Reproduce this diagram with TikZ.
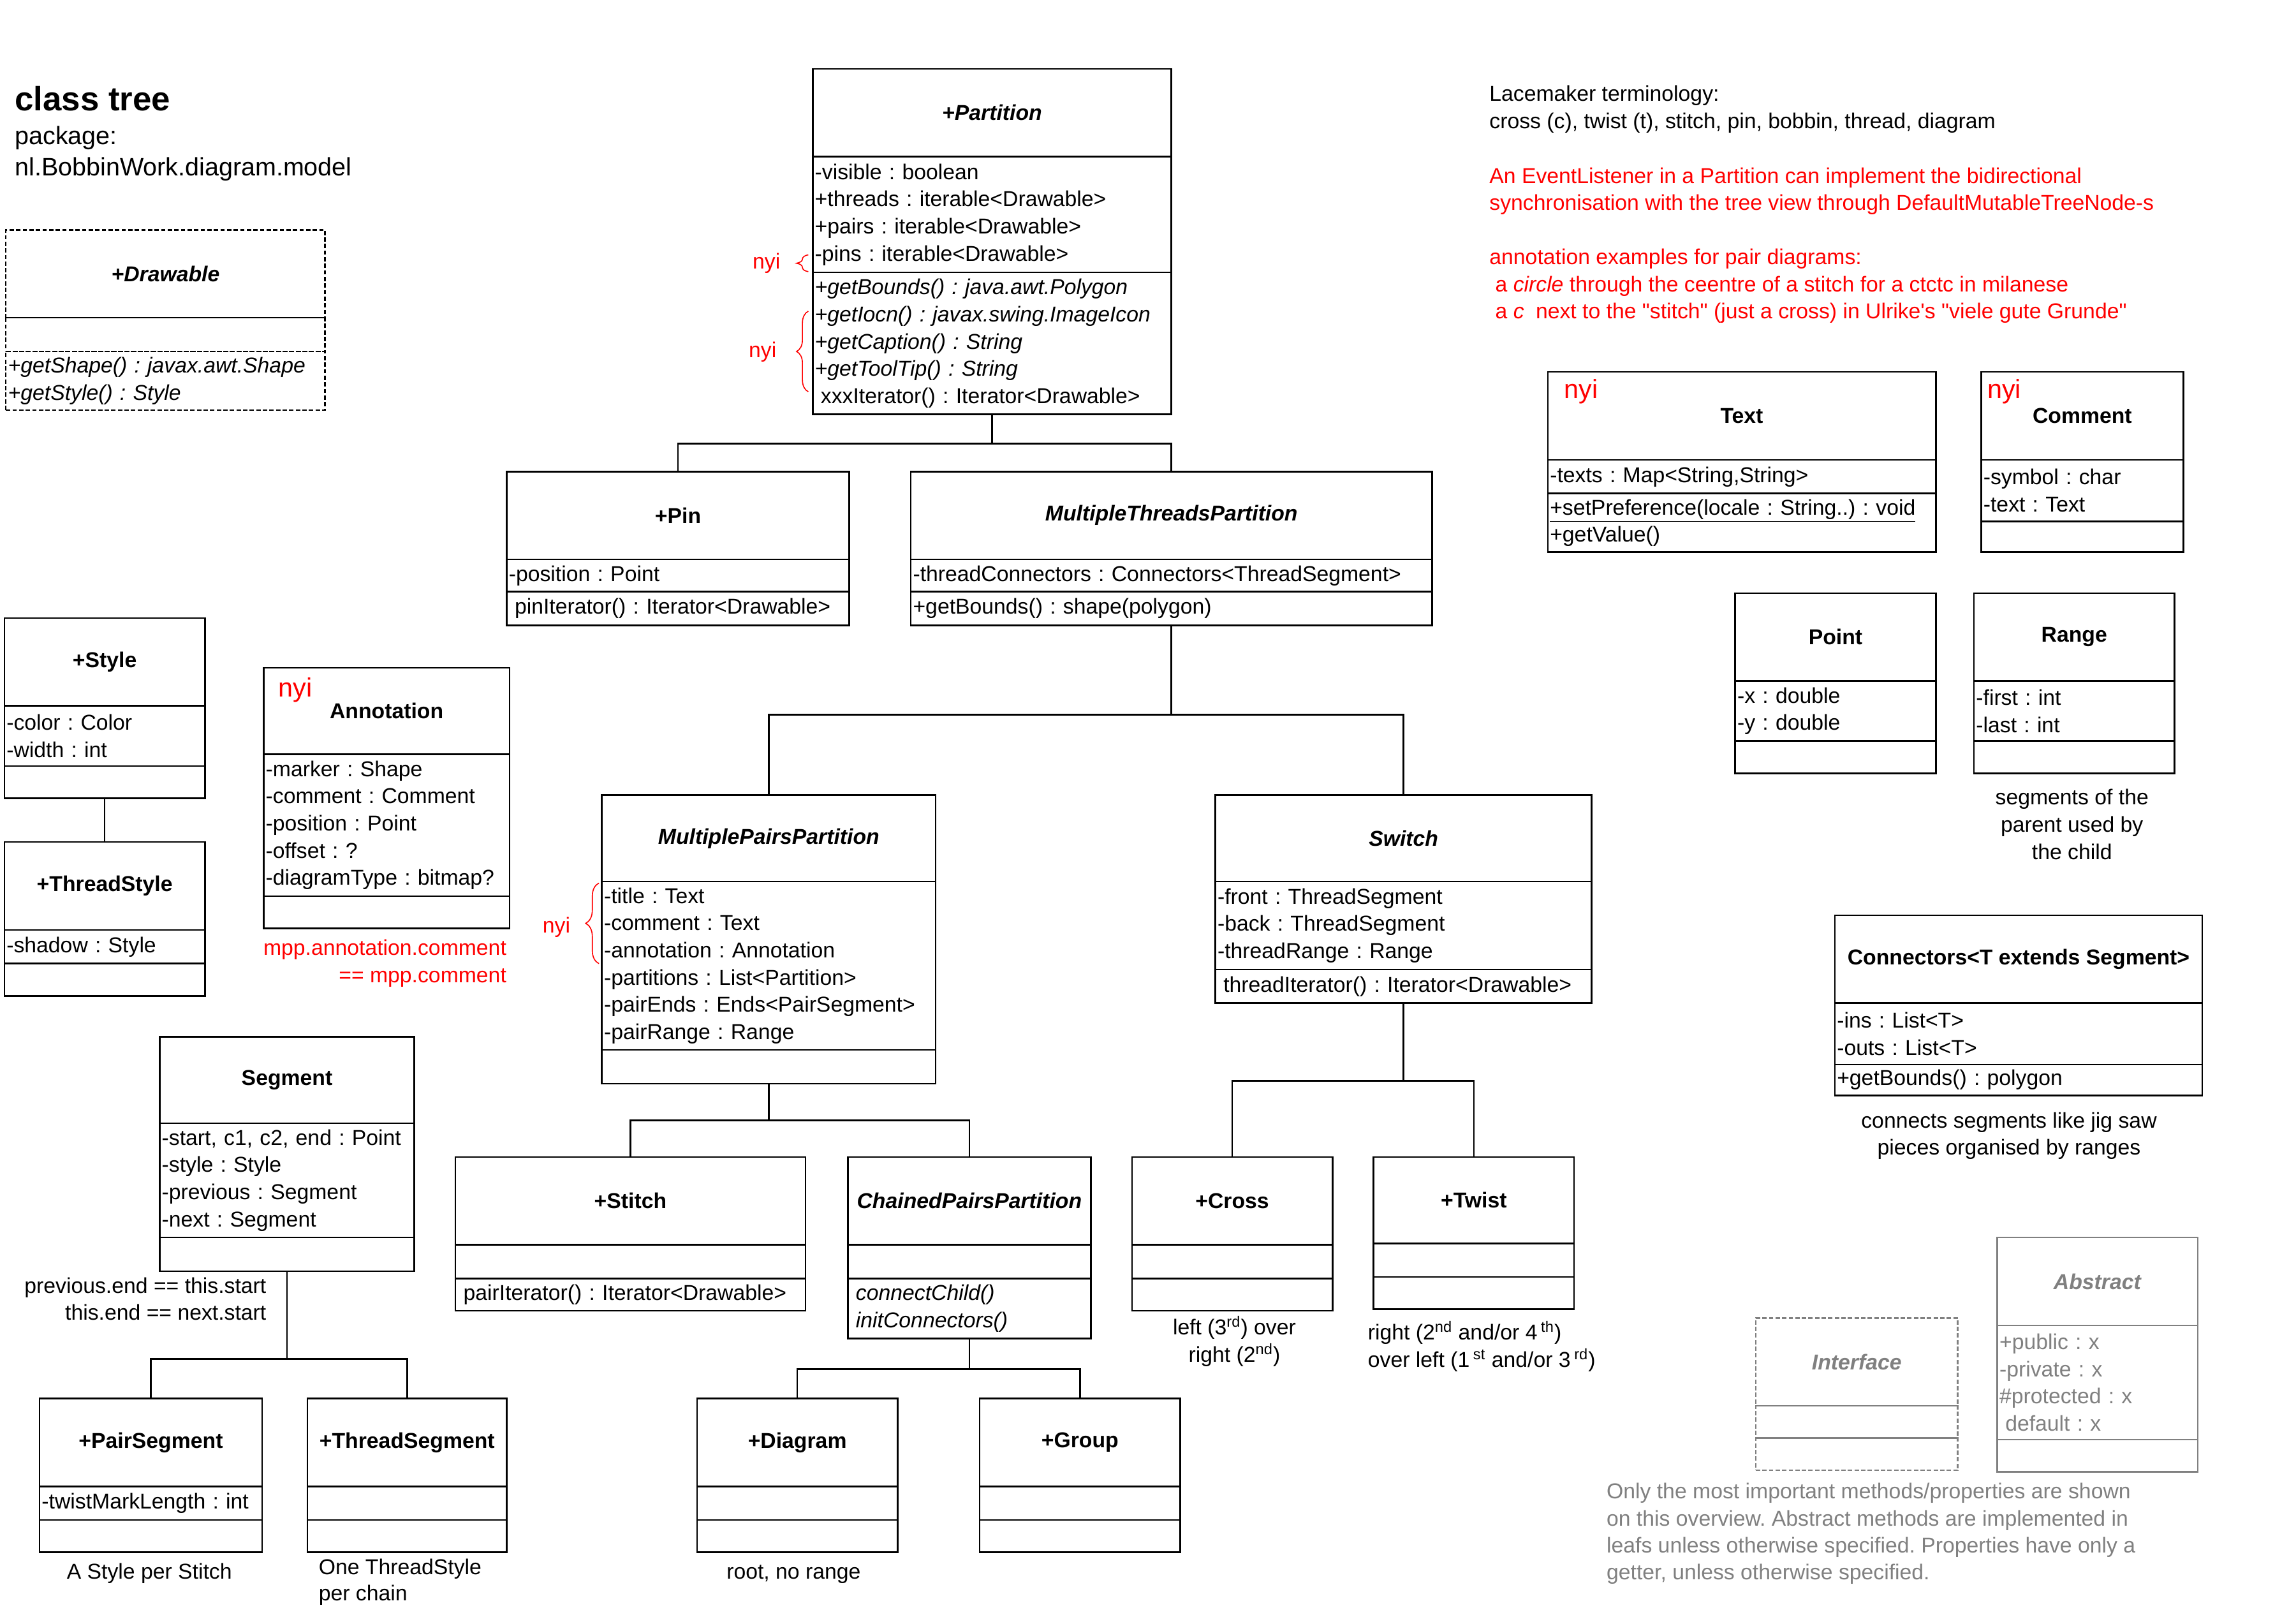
\documentclass[tikz,border=0pt]{standalone}
\usepackage{fontspec}
\setmainfont{Liberation Sans}[Ligatures=TeXOff]
\usetikzlibrary{positioning, calc, decorations.pathreplacing}
\definecolor{nyired}{RGB}{255,0,0}
\definecolor{legendgray}{RGB}{128,128,128}
\newcommand{\umlfont}{\fontsize{14.7}{18.6}\selectfont}
\frenchspacing

\begin{document}
\begin{tikzpicture}[
    x=1pt, y=-1pt,
    clsbox/.style={draw, line width=1.1pt, outer sep=0pt, inner sep=0pt, font=\umlfont},
    clshead/.style={clsbox, anchor=north west, align=center, font=\umlfont\bfseries},
    clspart/.style={clsbox, align=left, inner xsep=1.5pt},
    branch/.style={line width=1.1pt},
    notetext/.style={inner sep=0pt, font=\umlfont},
    nyitext/.style={inner sep=0pt, font=\umlfont, text=nyired},
    nyibrace/.style={draw=nyired, line width=0.7pt, decorate, decoration={brace, amplitude=#1}},
    dashbox/.style={dash pattern=on 3pt off 1.5pt},
    legendbox/.style={draw=legendgray, text=legendgray}
  ]
  \path[use as bounding box, fill=white] (0,0) rectangle (1568,1098);

  % HEADER NOTES (base = baseline of the last line)
  \node[notetext, anchor=base west, font=\fontsize{23}{26}\selectfont\bfseries] (heading) at (10,75.7) {class tree};
  \node[notetext, anchor=base west, align=left, font=\fontsize{17.2}{21.2}\selectfont] (package) at (10,119.9) {package:\\nl.BobbinWork.diagram.model};
  \node[notetext, anchor=base west, align=left] (terms) at (1017,87.7) {Lacemaker terminology:\\cross (c), twist (t), stitch, pin, bobbin, thread, diagram};
  \node[notetext, anchor=base west, align=left, text=nyired] (listener) at (1017,143.7) {An EventListener in a Partition can implement the bidirectional\\synchronisation with the tree view through DefaultMutableTreeNode-s};
  \node[notetext, anchor=base west, align=left, text=nyired] (examples) at (1017,217.7) {annotation examples for pair diagrams:\\\hspace*{4pt}a \textit{circle} through the ceentre of a stitch for a ctctc in milanese\\\hspace*{4pt}a \textit{c}\hspace*{8pt}next to the "stitch" (just a cross) in Ulrike's "viele gute Grunde"};

  % DRAWABLE (interface)
  \node[clshead, dashbox, minimum width=218pt, minimum height=60pt] (drawable) at (4,157) {\textit{+Drawable}};
  \node[clspart, dashbox, text width=215pt, minimum height=23pt, below=0pt of drawable] (drawableattr) {};
  \node[clspart, dashbox, text width=215pt, minimum height=40pt, below=0pt of drawableattr] (drawableops) {\textit{+getShape() : javax.awt.Shape}\\\textit{+getStyle() : Style}};

  % PARTITION
  \node[clshead, minimum width=245pt, minimum height=60pt] (partition) at (555,47) {\textit{+Partition}};
  \node[clspart, text width=242pt, minimum height=79pt, below=0pt of partition] (partitionattr) {-visible : boolean\\+threads : iterable<Drawable>\\+pairs : iterable<Drawable>\\-pins : iterable<Drawable>};
  \node[clspart, text width=242pt, minimum height=97pt, below=0pt of partitionattr] (partitionops) {\textit{+getBounds() : java.awt.Polygon}\\\textit{+getIocn() : javax.swing.ImageIcon}\\\textit{+getCaption() : String}\\\textit{+getToolTip() : String}\\\hspace*{4pt}xxxIterator() : Iterator<Drawable>};
  \node[nyitext, anchor=base east] (nyipins) at (533,183.7) {nyi};
  \node[nyitext, anchor=base east] (nyigetters) at (530.4,244.3) {nyi};
  \draw[nyibrace=8pt] (552,185.5) -- (552,174);
  \draw[nyibrace=8pt] (552,267.5) -- (552,212.5);

  % PIN
  \node[clshead, minimum width=234pt, minimum height=60pt] (pin) at (346,322) {+Pin};
  \node[clspart, text width=231pt, minimum height=22pt, below=0pt of pin] (pinattr) {-position : Point};
  \node[clspart, text width=231pt, minimum height=23pt, below=0pt of pinattr] (pinops) {\hspace*{4pt}pinIterator() : Iterator<Drawable>};

  % MULTIPLE THREADS PARTITION
  \node[clshead, minimum width=356pt, minimum height=60pt] (mtpart) at (622,322) {\textit{MultipleThreadsPartition}};
  \node[clspart, text width=353pt, minimum height=22pt, below=0pt of mtpart] (mtpartattr) {-threadConnectors : Connectors<ThreadSegment>};
  \node[clspart, text width=353pt, minimum height=23pt, below=0pt of mtpartattr] (mtpartops) {+getBounds() : shape(polygon)};

  % TEXT / COMMENT
  \node[clshead, minimum width=265pt, minimum height=60pt] (textclass) at (1057,254) {Text};
  \node[clspart, text width=262pt, minimum height=23pt, below=0pt of textclass] (textclassattr) {-texts : Map<String,String>};
  \node[clspart, text width=262pt, minimum height=40pt, below=0pt of textclassattr] (textclassops) {\underline{+setPreference(locale : String..) : void}\\+getValue()};
  \node[nyitext, font=\fontsize{18}{20}\selectfont, anchor=base west] (textnyi) at ($(textclass.north west)+(11,18)$) {nyi};

  \node[clshead, minimum width=138pt, minimum height=60pt] (comment) at (1353,254) {Comment};
  \node[clspart, text width=135pt, minimum height=42pt, below=0pt of comment] (commentattr) {-symbol : char\\-text : Text};
  \node[clspart, text width=135pt, minimum height=21pt, below=0pt of commentattr] (commentops) {};
  \node[nyitext, font=\fontsize{18}{20}\selectfont, anchor=base west] (commentnyi) at ($(comment.north west)+(4,18)$) {nyi};

  % STYLE / THREADSTYLE
  \node[clshead, minimum width=137pt, minimum height=60pt] (styleclass) at (3,422) {+Style};
  \node[clspart, text width=134pt, minimum height=41pt, below=0pt of styleclass] (styleclassattr) {-color : Color\\-width : int};
  \node[clspart, text width=134pt, minimum height=22pt, below=0pt of styleclassattr] (styleclassops) {};

  \node[clshead, minimum width=137pt, minimum height=60pt] (threadstyle) at (3,575) {+ThreadStyle};
  \node[clspart, text width=134pt, minimum height=23pt, below=0pt of threadstyle] (threadstyleattr) {-shadow : Style};
  \node[clspart, text width=134pt, minimum height=22pt, below=0pt of threadstyleattr] (threadstyleops) {};

  % ANNOTATION
  \node[clshead, minimum width=168pt, minimum height=59pt] (annotation) at (180,456) {Annotation};
  \node[clspart, text width=165pt, minimum height=97pt, below=0pt of annotation] (annotationattr) {-marker : Shape\\-comment : Comment\\-position : Point\\-offset : ?\\-diagramType : bitmap?};
  \node[clspart, text width=165pt, minimum height=22pt, below=0pt of annotationattr] (annotationops) {};
  \node[nyitext, font=\fontsize{18}{20}\selectfont, anchor=base west] (annotationnyi) at ($(annotation.north west)+(10,20)$) {nyi};
  \node[notetext, anchor=base east, align=right, text=nyired] (annotationnote) at (346,671) {mpp.annotation.comment\\== mpp.comment};

  % POINT / RANGE
  \node[clshead, minimum width=137pt, minimum height=60pt] (point) at (1185,405) {Point};
  \node[clspart, text width=134pt, minimum height=41pt, below=0pt of point] (pointattr) {-x : double\\-y : double};
  \node[clspart, text width=134pt, minimum height=22pt, below=0pt of pointattr] (pointops) {};

  \node[clshead, minimum width=137pt, minimum height=60pt] (range) at (1348,405) {Range};
  \node[clspart, text width=134pt, minimum height=41pt, below=0pt of range] (rangeattr) {-first : int\\-last : int};
  \node[clspart, text width=134pt, minimum height=22pt, below=0pt of rangeattr] (rangeops) {};
  \node[notetext, anchor=base, align=center] (rangenote) at (1415,586.8) {segments of the\\parent used by\\the child};

  % MULTIPLE PAIRS PARTITION
  \node[clshead, minimum width=228pt, minimum height=59pt] (mppart) at (411,543) {\textit{MultiplePairsPartition}};
  \node[clspart, text width=225pt, minimum height=115pt, below=0pt of mppart] (mppartattr) {-title : Text\\-comment : Text\\-annotation : Annotation\\-partitions : List<Partition>\\-pairEnds : Ends<PairSegment>\\-pairRange : Range};
  \node[clspart, text width=225pt, minimum height=23pt, below=0pt of mppartattr] (mppartops) {};
  \node[nyitext, anchor=base east] (nyimpp) at (389.6,636.9) {nyi};
  \draw[nyibrace=9pt] (409,658) -- (409,603);

  % SWITCH
  \node[clshead, minimum width=257pt, minimum height=59pt] (switch) at (830,543) {\textit{Switch}};
  \node[clspart, text width=254pt, minimum height=60pt, below=0pt of switch] (switchattr) {-front : ThreadSegment\\-back : ThreadSegment\\-threadRange : Range};
  \node[clspart, text width=254pt, minimum height=23pt, below=0pt of switchattr] (switchops) {\hspace*{4pt}threadIterator() : Iterator<Drawable>};

  % CONNECTORS
  \node[clshead, minimum width=251pt, minimum height=60pt] (connectors) at (1253,625) {Connectors<T extends Segment>};
  \node[clspart, text width=248pt, minimum height=42pt, below=0pt of connectors] (connectorsattr) {-ins : List<T>\\-outs : List<T>};
  \node[clspart, text width=248pt, minimum height=21pt, below=0pt of connectorsattr] (connectorsops) {+getBounds() : polygon};
  \node[notetext, anchor=base, align=center] (connectorsnote) at (1372,788.7) {connects segments like jig saw\\pieces organised by ranges};

  % SEGMENT
  \node[clshead, minimum width=174pt, minimum height=59pt] (segment) at (109,708) {Segment};
  \node[clspart, text width=171pt, minimum height=78pt, below=0pt of segment] (segmentattr) {-start, c1, c2, end : Point\\-style : Style\\-previous : Segment\\-next : Segment};
  \node[clspart, text width=171pt, minimum height=23pt, below=0pt of segmentattr] (segmentops) {};
  \node[notetext, anchor=base east, align=right] (segmentnote) at (182,901.5) {previous.end == this.start\\this.end == next.start};

  % STITCH / CHAINED PAIRS PARTITION
  \node[clshead, minimum width=239pt, minimum height=60pt] (stitch) at (311,790) {+Stitch};
  \node[clspart, text width=236pt, minimum height=23pt, below=0pt of stitch] (stitchattr) {};
  \node[clspart, text width=236pt, minimum height=22pt, below=0pt of stitchattr] (stitchops) {\hspace*{4pt}pairIterator() : Iterator<Drawable>};

  \node[clshead, minimum width=166pt, minimum height=60pt] (cppart) at (579,790) {\textit{ChainedPairsPartition}};
  \node[clspart, text width=163pt, minimum height=23pt, below=0pt of cppart] (cppartattr) {};
  \node[clspart, text width=163pt, minimum height=41pt, below=0pt of cppartattr] (cppartops) {\hspace*{4pt}\textit{connectChild()}\\\hspace*{4pt}\textit{initConnectors()}};

  % CROSS / TWIST
  \node[clshead, minimum width=137pt, minimum height=60pt] (cross) at (773,790) {+Cross};
  \node[clspart, text width=134pt, minimum height=23pt, below=0pt of cross] (crossattr) {};
  \node[clspart, text width=134pt, minimum height=22pt, below=0pt of crossattr] (crossops) {};
  \node[notetext, anchor=base, align=center] (crossnote) at (843,930) {left (3\textsuperscript{rd}) over\\right (2\textsuperscript{nd})};

  \node[clshead, minimum width=137pt, minimum height=59pt] (twist) at (938,790) {+Twist};
  \node[clspart, text width=134pt, minimum height=23pt, below=0pt of twist] (twistattr) {};
  \node[clspart, text width=134pt, minimum height=22pt, below=0pt of twistattr] (twistops) {};
  \node[notetext, anchor=base west, align=left] (twistnote) at (934,933.6) {right (2\textsuperscript{nd} and/or 4\,\textsuperscript{th})\\over left (1\,\textsuperscript{st} and/or 3\,\textsuperscript{rd})};

  % SEGMENT SUBCLASSES
  \node[clshead, minimum width=152pt, minimum height=60pt] (pairseg) at (27,955) {+PairSegment};
  \node[clspart, text width=149pt, minimum height=23pt, below=0pt of pairseg] (pairsegattr) {-twistMarkLength : int};
  \node[clspart, text width=149pt, minimum height=22pt, below=0pt of pairsegattr] (pairsegops) {};
  \node[notetext, anchor=base] (pairsegnote) at (102,1078) {A Style per Stitch};

  \node[clshead, minimum width=136pt, minimum height=60pt] (threadseg) at (210,955) {+ThreadSegment};
  \node[clspart, text width=133pt, minimum height=23pt, below=0pt of threadseg] (threadsegattr) {};
  \node[clspart, text width=133pt, minimum height=22pt, below=0pt of threadsegattr] (threadsegops) {};
  \node[notetext, anchor=base west, align=left, font=\fontsize{14.7}{17.5}\selectfont] (threadsegnote) at (217.5,1092.8) {One ThreadStyle\\per chain};

  % DIAGRAM / GROUP
  \node[clshead, minimum width=137pt, minimum height=60pt] (diagram) at (476,955) {+Diagram};
  \node[clspart, text width=134pt, minimum height=23pt, below=0pt of diagram] (diagramattr) {};
  \node[clspart, text width=134pt, minimum height=22pt, below=0pt of diagramattr] (diagramops) {};
  \node[notetext, anchor=base] (diagramnote) at (542,1078) {root, no range};

  \node[clshead, minimum width=137pt, minimum height=60pt] (group) at (669,955) {+Group};
  \node[clspart, text width=134pt, minimum height=23pt, below=0pt of group] (groupattr) {};
  \node[clspart, text width=134pt, minimum height=22pt, below=0pt of groupattr] (groupops) {};

  % LEGEND
  \node[clshead, dashbox, legendbox, minimum width=138pt, minimum height=60pt] (interface) at (1199,900) {\textit{Interface}};
  \node[clspart, dashbox, legendbox, text width=135pt, minimum height=22pt, below=0pt of interface] (interfaceattr) {};
  \node[clspart, dashbox, legendbox, text width=135pt, minimum height=22pt, below=0pt of interfaceattr] (interfaceops) {};

  \node[clshead, legendbox, minimum width=137pt, minimum height=60pt] (abstract) at (1364,845) {\textit{Abstract}};
  \node[clspart, legendbox, text width=134pt, minimum height=78pt, below=0pt of abstract] (abstractattr) {+public : x\\-private : x\\\#protected : x\\\hspace*{4pt}default : x};
  \node[clspart, legendbox, text width=134pt, minimum height=22pt, below=0pt of abstractattr] (abstractops) {};
  \node[notetext, anchor=base west, align=left, text=legendgray, font=\fontsize{14.7}{18.4}\selectfont] (legendnote) at (1097,1078.7) {Only the most important methods/properties are shown\\on this overview. Abstract methods are implemented in\\leafs unless otherwise specified. Properties have only a\\getter, unless otherwise specified.};

  %%% INHERITANCE TREE
  \draw[branch] (partitionops.south) -- ++(0,20) -| (pin.north);
  \draw[branch] (partitionops.south) -- ++(0,20) -| (mtpart.north);
  \draw[branch] (mtpartops.south) -- ++(0,61) -| (mppart.north);
  \draw[branch] (mtpartops.south) -- ++(0,61) -| (switch.north);
  \draw[branch] (mppartops.south) -- ++(0,25) -| (stitch.north);
  \draw[branch] (mppartops.south) -- ++(0,25) -| (cppart.north);
  \draw[branch] (cppartops.south) -- ++(0,21) -| (diagram.north);
  \draw[branch] (cppartops.south) -- ++(0,21) -| (group.north);
  \draw[branch] (switchops.south) -- ++(0,53) -| (cross.north);
  \draw[branch] (switchops.south) -- ++(0,53) -| (twist.north);
  \draw[branch] (segmentops.south) -- ++(0,60) -| (pairseg.north);
  \draw[branch] (segmentops.south) -- ++(0,60) -| (threadseg.north);
  \draw[branch] (styleclassops.south) -- (threadstyle.north);
\end{tikzpicture}
\end{document}
